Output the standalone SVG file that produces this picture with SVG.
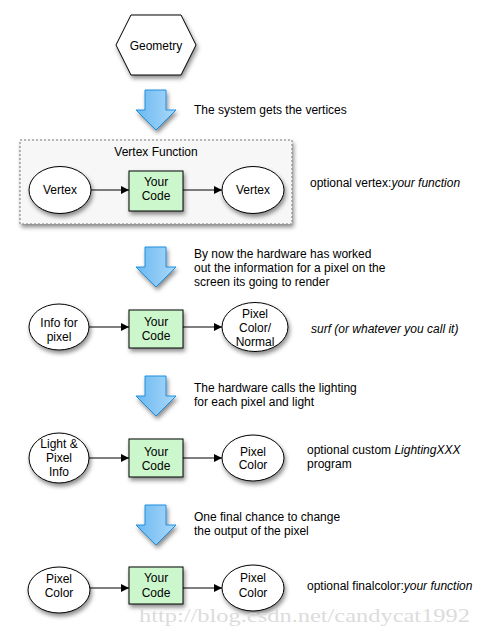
<svg xmlns="http://www.w3.org/2000/svg" width="481" height="635" viewBox="0 0 481 635">
<defs>
<filter id="sh" x="-30%" y="-30%" width="160%" height="170%">
<feDropShadow dx="1.5" dy="3" stdDeviation="2" flood-color="#000" flood-opacity="0.45"/>
</filter>
<linearGradient id="bg" x1="0" y1="0" x2="1" y2="0">
<stop offset="0" stop-color="#6ab8f0"/>
<stop offset="1" stop-color="#aad8fa"/>
</linearGradient>
<marker id="ah" viewBox="0 0 10 10" refX="10" refY="5" markerWidth="10" markerHeight="8" markerUnits="userSpaceOnUse" orient="auto">
<path d="M0,0 L10,5 L0,10 z" fill="#000"/>
</marker>
<path id="barrow" d="M145,0 H166 V20 H176 L156,40 L136,20 H145 Z"/>
</defs>
<style>
text{font-family:"Liberation Sans",Arial,sans-serif;font-size:12px;fill:#000}
.c{text-anchor:middle}
.i{font-style:italic}
.n{fill:#fff;stroke:#000;stroke-width:1;filter:url(#sh)}
.code{fill:#ccf7cc;stroke:#000;stroke-width:1;filter:url(#sh)}
.con{stroke:#000;stroke-width:1.2;fill:none;marker-end:url(#ah)}
.big{fill:url(#bg);stroke:#1e8fe0;stroke-width:1;filter:url(#sh)}
.wm{font-family:"Liberation Serif",serif;font-size:19px;fill:#dcdcdc}
</style>
<rect width="481" height="635" fill="#fff"/>

<g id="geometry">
<polygon class="n" points="116,45 131,15 181,15 196,45 181,75 131,75"/>
<text class="c" x="156" y="49.5">Geometry</text>
</g>

<g id="flow-arrows">
<use href="#barrow" class="big" transform="translate(0,90)"/>
<use href="#barrow" class="big" transform="translate(0,247)"/>
<use href="#barrow" class="big" transform="translate(0,376)"/>
<use href="#barrow" class="big" transform="translate(0,505)"/>
</g>

<g id="vertex-function">
<rect x="20" y="140" width="272" height="84" fill="#f7f7f7" stroke="#777" stroke-width="1" stroke-dasharray="2,2" filter="url(#sh)"/>
<text class="c" x="156" y="156">Vertex Function</text>
</g>

<g id="vertex-in">
<ellipse class="n" cx="60" cy="190" rx="31" ry="23.5"/>
<text class="c" x="60" y="194">Vertex</text>
</g>
<g id="code1">
<rect class="code" x="129" y="171" width="54" height="40"/>
<text class="c" x="156" y="186">Your</text>
<text class="c" x="156" y="200">Code</text>
</g>
<g id="vertex-out">
<ellipse class="n" cx="253" cy="190" rx="31" ry="23.5"/>
<text class="c" x="253" y="194">Vertex</text>
</g>

<g id="info-pixel">
<ellipse class="n" cx="59" cy="327" rx="30" ry="23"/>
<text class="c" x="59" y="327">Info for</text>
<text class="c" x="59" y="341">pixel</text>
</g>
<g id="code2">
<rect class="code" x="129" y="310" width="54" height="38"/>
<text class="c" x="156" y="326">Your</text>
<text class="c" x="156" y="340">Code</text>
</g>
<g id="pixel-color-normal">
<ellipse class="n" cx="255" cy="327" rx="33" ry="24.5"/>
<text class="c" x="255" y="318">Pixel</text>
<text class="c" x="255" y="332">Color/</text>
<text class="c" x="255" y="346">Normal</text>
</g>

<g id="light-pixel-info">
<ellipse class="n" cx="59" cy="458" rx="30" ry="25"/>
<text class="c" x="59" y="448">Light &amp;</text>
<text class="c" x="59" y="462">Pixel</text>
<text class="c" x="59" y="476">Info</text>
</g>
<g id="code3">
<rect class="code" x="129" y="439" width="54" height="38"/>
<text class="c" x="156" y="456">Your</text>
<text class="c" x="156" y="470">Code</text>
</g>
<g id="pixel-color1">
<ellipse class="n" cx="253" cy="458" rx="31" ry="23"/>
<text class="c" x="253" y="456">Pixel</text>
<text class="c" x="253" y="469">Color</text>
</g>

<g id="pixel-color2">
<ellipse class="n" cx="59" cy="590" rx="31" ry="23"/>
<text class="c" x="59" y="583">Pixel</text>
<text class="c" x="59" y="597">Color</text>
</g>
<g id="code4">
<rect class="code" x="129" y="567" width="54" height="37"/>
<text class="c" x="156" y="582">Your</text>
<text class="c" x="156" y="597">Code</text>
</g>
<g id="pixel-color3">
<ellipse class="n" cx="253" cy="588" rx="31" ry="23"/>
<text class="c" x="253" y="582">Pixel</text>
<text class="c" x="253" y="597">Color</text>
</g>

<g id="connectors">
<line class="con" x1="91" y1="190" x2="129" y2="190"/>
<line class="con" x1="183" y1="190" x2="222" y2="190" stroke="#555"/>
<line class="con" x1="89" y1="327" x2="129" y2="327"/>
<line class="con" x1="183" y1="327" x2="222" y2="327"/>
<line class="con" x1="89" y1="458" x2="129" y2="458"/>
<line class="con" x1="183" y1="458" x2="222" y2="458"/>
<line class="con" x1="90" y1="588" x2="129" y2="588"/>
<line class="con" x1="183" y1="588" x2="222" y2="588"/>
</g>

<g id="labels">
<text x="194" y="114">The system gets the vertices</text>
<text x="310" y="187">optional vertex:<tspan class="i">your function</tspan></text>
<text x="194" y="258">By now the hardware has worked</text>
<text x="194" y="272">out the information for a pixel on the</text>
<text x="194" y="286">screen its going to render</text>
<text class="i" x="311" y="333">surf (or whatever you call it)</text>
<text x="194" y="392">The hardware calls the lighting</text>
<text x="194" y="406">for each pixel and light</text>
<text x="307" y="454">optional custom <tspan class="i">LightingXXX</tspan></text>
<text x="307" y="468">program</text>
<text x="194" y="521">One final chance to change</text>
<text x="194" y="535">the output of the pixel</text>
<text x="307" y="590">optional finalcolor:<tspan class="i">your function</tspan></text>
</g>

<text class="wm" x="139" y="622" textLength="331" lengthAdjust="spacingAndGlyphs">http://blog.csdn.net/candycat1992</text>
</svg>
